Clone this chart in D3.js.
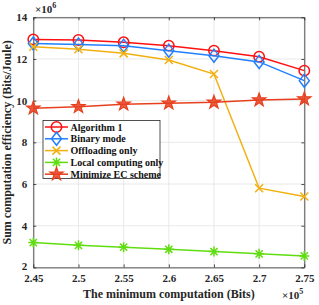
<!DOCTYPE html>
<html><head><meta charset="utf-8">
<script src="https://cdn.jsdelivr.net/npm/d3@7"></script>
<style>body{margin:0;background:#fff}svg{display:block}text{font-family:"Liberation Serif","Times New Roman",serif;font-weight:bold}</style>
</head><body>
<script>
const xValues = [2.45, 2.5, 2.55, 2.6, 2.65, 2.7, 2.75];
const algorithm1 = [12.94, 12.91, 12.80, 12.64, 12.40, 12.11, 11.44];
const binaryMode = [12.74, 12.70, 12.64, 12.40, 12.16, 11.86, 10.96];
const offloadingOnly = [12.59, 12.47, 12.27, 11.95, 11.28, 5.80, 5.40];
const localOnly = [3.19, 3.06, 2.97, 2.87, 2.76, 2.65, 2.55];
const minimizeEC = [9.64, 9.71, 9.83, 9.88, 9.92, 10.03, 10.08];
const xTicks = [2.45, 2.5, 2.55, 2.6, 2.65, 2.7, 2.75];
const yTicks = [2, 4, 6, 8, 10, 12, 14];
const seriesNames = ["Algorithm 1", "Binary mode", "Offloading only", "Local computing only", "Minimize EC scheme"];

const W = 319, H = 305;
const m = {l: 33.3, r: 304.3, t: 17.3, b: 267.4};
const svg = d3.select("body").append("svg").attr("width", W).attr("height", H);
const x = d3.scaleLinear().domain([2.45, 2.75]).range([m.l, m.r]);
const y = d3.scaleLinear().domain([2, 14]).range([m.b, m.t]);

// grid
const g = svg.append("g");
g.selectAll(".gx").data(xTicks).enter().append("line")
  .attr("x1", d => x(d)).attr("x2", d => x(d)).attr("y1", m.t).attr("y2", m.b)
  .attr("stroke", "#e3e3e3").attr("stroke-width", 0.8);
g.selectAll(".gy").data(yTicks).enter().append("line")
  .attr("y1", d => y(d)).attr("y2", d => y(d)).attr("x1", m.l).attr("x2", m.r)
  .attr("stroke", "#e3e3e3").attr("stroke-width", 0.8);

// axes
const fmt = d => String(d);
const axB = svg.append("g").attr("transform", `translate(0,${m.b})`)
  .call(d3.axisBottom(x).tickValues(xTicks).tickFormat(fmt).tickSizeInner(-3).tickSizeOuter(0).tickPadding(7));
const axT = svg.append("g").attr("transform", `translate(0,${m.t})`)
  .call(d3.axisTop(x).tickValues(xTicks).tickFormat("").tickSizeInner(-3).tickSizeOuter(0));
const axL = svg.append("g").attr("transform", `translate(${m.l},0)`)
  .call(d3.axisLeft(y).tickValues(yTicks).tickFormat(fmt).tickSizeInner(-3).tickSizeOuter(0).tickPadding(6));
const axR = svg.append("g").attr("transform", `translate(${m.r},0)`)
  .call(d3.axisRight(y).tickValues(yTicks).tickFormat("").tickSizeInner(-3).tickSizeOuter(0));
[axB, axT, axL, axR].forEach(a => {
  a.selectAll("path").attr("stroke", "#262626").attr("stroke-width", 0.8);
  a.selectAll("line").attr("stroke", "#262626").attr("stroke-width", 0.8);
  a.selectAll("text").attr("font-size", 11).attr("fill", "#262626")
    .style("font-family", '"Liberation Serif",serif').style("font-weight", "bold");
});
axL.selectAll("text").filter(d => d === 2).attr("dy", "0.2em");

// exponents
const e6 = svg.append("text").attr("x", 35).attr("y", 13).attr("font-size", 11).attr("fill", "#262626");
e6.append("tspan").text("×10");
e6.append("tspan").attr("font-size", 8).attr("dy", -5).text("6");
const e5 = svg.append("text").attr("x", 282).attr("y", 299).attr("font-size", 11).attr("fill", "#262626");
e5.append("tspan").text("×10");
e5.append("tspan").attr("font-size", 8).attr("dy", -5).text("5");

// labels
svg.append("text").attr("x", (m.l + m.r) / 2).attr("y", 298).attr("text-anchor", "middle")
  .attr("font-size", 12).attr("fill", "#262626").text("The minimum computation (Bits)");
svg.append("text").attr("transform", `translate(11,${(m.t + m.b) / 2}) rotate(-90)`).attr("text-anchor", "middle")
  .attr("font-size", 12).attr("fill", "#262626").text("Sum computation efficiency (Bits/Joule)");

// markers
function starPath(r) {
  const pts = [];
  for (let i = 0; i < 10; i++) {
    const a = -Math.PI / 2 + i * Math.PI / 5;
    const rr = i % 2 === 0 ? r : r * 0.4;
    pts.push([rr * Math.cos(a), rr * Math.sin(a)]);
  }
  return "M" + pts.map(p => p.join(",")).join("L") + "Z";
}
const markers = {
  circle: (sel, c) => sel.append("circle").attr("r", 5.2).attr("fill", "none").attr("stroke", c).attr("stroke-width", 1.5),
  diamond: (sel, c) => sel.append("path").attr("d", "M0,-6.5L5,0L0,6.5L-5,0Z").attr("fill", "none").attr("stroke", c).attr("stroke-width", 1.5),
  cross: (sel, c) => sel.append("path").attr("d", "M-4,-4L4,4M-4,4L4,-4").attr("fill", "none").attr("stroke", c).attr("stroke-width", 1.5),
  asterisk: (sel, c) => sel.append("path").attr("d", "M-5,0L5,0M0,-5L0,5M-3.6,-3.6L3.6,3.6M-3.6,3.6L3.6,-3.6").attr("fill", "none").attr("stroke", c).attr("stroke-width", 1.5),
  star: (sel, c) => sel.append("path").attr("d", starPath(7)).attr("fill", c).attr("fill-opacity", 0.85).attr("stroke", c).attr("stroke-width", 1.2)
};

const series = [
  {name: seriesNames[0], vals: algorithm1, color: "#ff1010", marker: "circle"},
  {name: seriesNames[1], vals: binaryMode, color: "#2280ff", marker: "diamond"},
  {name: seriesNames[2], vals: offloadingOnly, color: "#f2b010", marker: "cross"},
  {name: seriesNames[3], vals: localOnly, color: "#60dd10", marker: "asterisk"},
  {name: seriesNames[4], vals: minimizeEC, color: "#e8401e", marker: "star"}
];
const line = d3.line().x((d, i) => x(xValues[i])).y(d => y(d));
series.forEach(s => {
  const sg = svg.append("g");
  sg.append("path").attr("d", line(s.vals)).attr("fill", "none").attr("stroke", s.color).attr("stroke-width", 1.5);
  s.vals.forEach((v, i) => {
    const mg = sg.append("g").attr("transform", `translate(${x(xValues[i])},${y(v)})`);
    markers[s.marker](mg, s.color);
  });
});

// legend
const lg = svg.append("g");
lg.append("rect").attr("x", 43).attr("y", 120.5).attr("width", 117).attr("height", 58)
  .attr("fill", "#fff").attr("stroke", "#262626").attr("stroke-width", 0.8);
series.forEach((s, i) => {
  const yy = 127 + i * 11.8;
  lg.append("line").attr("x1", 45).attr("x2", 68).attr("y1", yy).attr("y2", yy).attr("stroke", s.color).attr("stroke-width", 1.5);
  const mg = lg.append("g").attr("transform", `translate(56.5,${yy})`);
  markers[s.marker](mg, s.color);
  lg.append("text").attr("x", 70.5).attr("y", yy + 3.5).attr("font-size", 10).attr("fill", "#111").text(s.name);
});
</script>
</body></html>
